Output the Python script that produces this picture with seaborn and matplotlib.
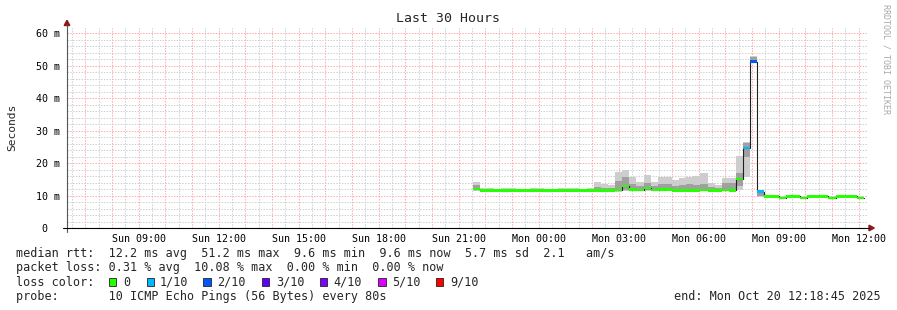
import numpy as np
import pandas as pd
import matplotlib
matplotlib.use("Agg")
import matplotlib.pyplot as plt
import matplotlib.dates as mdates
import matplotlib.ticker as mticker
from matplotlib.patches import Rectangle, Polygon
from matplotlib.lines import Line2D
import seaborn as sns

# ---------------- data ----------------
bin_minutes = 16
bin_start = pd.date_range("2025-10-19 21:32", periods=55, freq="16min")

median_ms = [12.0, 11.6, 11.6, 11.6, 11.5, 11.6, 11.6, 11.6, 11.6, 11.6,
             11.5, 11.6, 11.6, 11.6, 11.6, 11.6, 11.6, 11.6, 11.5, 11.6,
             11.7, 13.0, 11.8, 11.7, 12.3, 11.7, 11.8, 11.9, 11.6, 11.6,
             11.6, 11.6, 11.7, 11.6, 11.6, 11.7, 11.6, 15.0, 24.6, 51.2,
             11.2, 9.7, 9.7, 9.3, 9.7, 9.7, 9.3, 9.7, 9.7, 9.7,
             9.3, 9.7, 9.7, 9.7, 9.3]
smoke_min = [11.5, 11.3, 11.3, 11.3, 11.2, 11.3, 11.3, 11.3, 11.3, 11.3,
             11.2, 11.3, 11.3, 11.3, 11.3, 11.3, 11.3, 11.2, 11.2, 11.2,
             11.2, 11.4, 11.3, 11.3, 11.4, 11.3, 11.3, 11.3, 11.2, 11.3,
             11.3, 11.3, 11.3, 11.2, 11.2, 11.3, 11.2, 11.6, 15.6, 51.0,
             9.5, 9.4, 9.4, 9.0, 9.4, 9.4, 9.0, 9.4, 9.4, 9.4,
             9.0, 9.4, 9.4, 9.4, 9.0]
smoke_max = [14.3, 12.3, 12.4, 12.1, 12.4, 12.3, 12.0, 12.1, 12.4, 12.3,
             12.0, 12.1, 12.2, 12.4, 12.3, 12.1, 12.3, 14.2, 13.5, 13.1,
             17.2, 17.8, 15.8, 14.2, 16.4, 14.2, 15.8, 15.6, 14.8, 15.4,
             15.8, 16.0, 16.8, 13.9, 13.1, 15.4, 15.4, 22.2, 26.5, 52.9,
             11.6, 10.0, 10.0, 9.7, 10.0, 10.0, 9.7, 10.0, 10.0, 10.0,
             9.7, 10.0, 10.0, 10.0, 9.7]
inner_lo = [11.8, 11.4, 11.4, 11.4, 11.3, 11.4, 11.4, 11.4, 11.4, 11.4,
            11.3, 11.4, 11.4, 11.4, 11.4, 11.4, 11.4, 11.4, 11.4, 11.4,
            11.5, 11.8, 11.5, 11.5, 11.7, 11.5, 11.5, 11.6, 11.4, 11.5,
            11.5, 11.5, 11.5, 11.4, 11.4, 11.5, 11.4, 13.0, 22.0, 51.1,
            10.0, 9.55, 9.55, 9.15, 9.55, 9.55, 9.15, 9.55, 9.55, 9.55,
            9.15, 9.55, 9.55, 9.55, 9.15]
inner_hi = [13.2, 11.9, 11.9, 11.8, 11.8, 11.9, 11.8, 11.8, 11.9, 11.9,
            11.7, 11.8, 11.8, 11.9, 11.9, 11.8, 11.9, 12.6, 12.3, 12.2,
            14.6, 15.8, 13.6, 12.9, 14.0, 12.8, 13.5, 13.6, 13.0, 13.3,
            13.4, 13.2, 13.5, 12.6, 12.3, 13.9, 14.0, 17.0, 26.2, 52.5,
            11.4, 9.85, 9.85, 9.45, 9.85, 9.85, 9.45, 9.85, 9.85, 9.85,
            9.45, 9.85, 9.85, 9.85, 9.45]
loss_class = [0] * 38 + [1, 2, 1] + [0] * 14

loss_labels = ["0", "1/10", "2/10", "3/10", "4/10", "5/10", "9/10"]
loss_colors = ["#26ff00", "#00b8ff", "#0059ff", "#5e00ff", "#7e00ff", "#dd00ff", "#ff0000"]

t_start = pd.Timestamp("2025-10-19 06:18:45")
t_end = pd.Timestamp("2025-10-20 12:18:45")

legend_line1 = "median rtt:  12.2 ms avg  51.2 ms max  9.6 ms min  9.6 ms now  5.7 ms sd  2.1   am/s"
legend_line2 = "packet loss: 0.31 % avg  10.08 % max  0.00 % min  0.00 % now"
legend_line3 = "loss color:"
legend_line4 = "probe:       10 ICMP Echo Pings (56 Bytes) every 80s"
end_text = "end: Mon Oct 20 12:18:45 2025"

# ---------------- figure ----------------
sns.set_theme(style="white")
plt.rcParams["font.family"] = ["DejaVu Sans Mono"]

W, H = 897, 310
fig = plt.figure(figsize=(W / 100, H / 100), dpi=100, facecolor="white")
ax = fig.add_axes([67 / W, (H - 228) / H, 800 / W, 200 / H])
ax.set_facecolor("white")


def fx(x):
    return x / W


def fy(y):
    return 1 - y / H


x0 = mdates.date2num(bin_start.to_pydatetime())
bw = bin_minutes / 1440.0
med = np.array(median_ms)

# smoke
ax.bar(x0, np.array(smoke_max) - np.array(smoke_min), bottom=smoke_min, width=bw,
       align="edge", color="#cdcdcd", linewidth=0, zorder=2)
ax.bar(x0, np.array(inner_hi) - np.array(inner_lo), bottom=inner_lo, width=bw,
       align="edge", color="#a0a0a0", linewidth=0, zorder=2)

# median black step line
xe = np.append(x0, x0[-1] + bw)
ye = np.append(med, med[-1])
sns.lineplot(x=xe, y=ye, drawstyle="steps-post", color="#202020", linewidth=0.8,
             ax=ax, estimator=None, sort=False, zorder=3)

# loss coloured median band
half = 0.37
cols = [loss_colors[c] for c in loss_class]
ax.bar(x0, 2 * half, bottom=med - half, width=bw, align="edge", color=cols,
       linewidth=0, zorder=4)

# axes limits / grid
ax.set_xlim(mdates.date2num(t_start.to_pydatetime()), mdates.date2num(t_end.to_pydatetime()))
ax.set_ylim(0, 61.54)

ax.xaxis.set_major_locator(mdates.HourLocator(interval=1))
ax.xaxis.set_minor_locator(mdates.MinuteLocator(byminute=[30]))


def xfmt(v, pos):
    d = mdates.num2date(v)
    return d.strftime("%a %H:%M") if d.hour % 3 == 0 and d.minute == 0 else ""


ax.xaxis.set_major_formatter(mticker.FuncFormatter(xfmt))
ax.yaxis.set_major_locator(mticker.MultipleLocator(10))
ax.yaxis.set_minor_locator(mticker.MultipleLocator(2))
ax.yaxis.set_major_formatter(mticker.FuncFormatter(lambda v, p: "0  " if abs(v) < 1e-9 else f"{int(round(v))} m"))

dash = (0, (1.4, 1.4))
ax.grid(True, which="major", color="#ffa8a8", linestyle=dash, linewidth=0.72)
ax.grid(True, which="minor", color="#cfcfcf", linestyle=dash, linewidth=0.72)
ax.set_axisbelow(True)

ax.tick_params(axis="both", which="both", length=0)
ax.tick_params(axis="x", which="major", pad=4.2, labelsize=7.2, labelcolor="black")
ax.tick_params(axis="y", which="major", pad=5.0, labelsize=7.2, labelcolor="black")
for s in ax.spines.values():
    s.set_visible(False)
ax.set_xlabel("")
ax.set_ylabel("")

# axis lines + arrows
fig.add_artist(Line2D([fx(67), fx(67)], [fy(231.5), fy(25)], color="#555555", lw=0.8))
fig.add_artist(Line2D([fx(62.5), fx(869)], [fy(228), fy(228)], color="black", lw=0.8))
fig.add_artist(Polygon([[fx(64.2), fy(25.5)], [fx(69.8), fy(25.5)], [fx(67), fy(20.3)]],
                       closed=True, color="#8b1a1a", transform=fig.transFigure))
fig.add_artist(Polygon([[fx(869), fy(225.2)], [fx(869), fy(230.8)], [fx(874.3), fy(228)]],
                       closed=True, color="#8b1a1a", transform=fig.transFigure))

# titles
fig.text(fx(447.5), fy(19), "Last 30 Hours", ha="center", va="center", fontsize=9.5)
fig.text(fx(12), fy(127), "Seconds", ha="center", va="center", rotation=90, fontsize=8.1)
fig.text(fx(886), fy(4), "RRDTOOL / TOBI OETIKER", ha="center", va="top", rotation=270,
         fontsize=6, color="#a8a8a8")

# legend / stats
fs = 8.5
fig.text(fx(16.0), fy(257.5), legend_line1, ha="left", va="baseline", fontsize=fs)
fig.text(fx(16.0), fy(271.5), legend_line2, ha="left", va="baseline", fontsize=fs)
fig.text(fx(16.0), fy(285.8), legend_line3, ha="left", va="baseline", fontsize=fs)
box_x = [108.5, 146.5, 203, 261.5, 319.5, 378, 435.5]
lab_x = [123.3, 160, 217, 275.7, 333, 391.7, 450]
for bx, lx, lab, c in zip(box_x, lab_x, loss_labels, loss_colors):
    fig.add_artist(Rectangle((fx(bx), fy(285.8)), 7.5 / W, 7.5 / H, transform=fig.transFigure,
                             facecolor=c, edgecolor="#222222", linewidth=0.6))
    fig.text(fx(lx), fy(285.8), lab, ha="left", va="baseline", fontsize=fs)

fig.text(fx(16.0), fy(300), legend_line4, ha="left", va="baseline", fontsize=fs)
fig.text(fx(880.5), fy(300), end_text, ha="right", va="baseline", fontsize=fs)

fig.savefig("out.png", dpi=100, facecolor="white")
